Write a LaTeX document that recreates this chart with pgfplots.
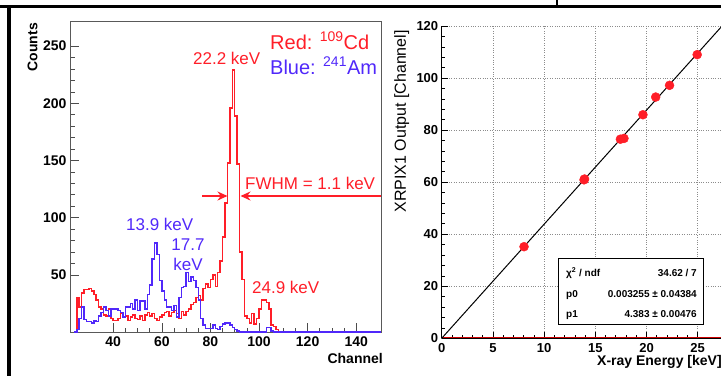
\documentclass[border=0pt]{standalone}
\usepackage{pgfplots}
\pgfplotsset{compat=1.18}
\usepackage{fontspec}
\setmainfont{Liberation Sans}
\usetikzlibrary{arrows.meta}
\definecolor{rootred}{RGB}{255,30,40}
\definecolor{rootblue}{RGB}{80,40,250}
\begin{document}
\begin{tikzpicture}[x=1pt,y=1pt]
\useasboundingbox (0,0) rectangle (721,376);
\clip (0,0) rectangle (721,376);
% ---------------- left panel: spectra ----------------
\begin{axis}[
  at={(70pt,44pt)}, anchor=south west, scale only axis,
  width=311pt, height=311pt,
  xmin=22.2, xmax=150.2, ymin=0, ymax=272,
  xtick={40,60,...,140}, ytick={50,100,...,250},
  minor x tick num=3, minor y tick num=4,
  tick align=inside, tick pos=left,
  major tick length=9pt, minor tick length=4.5pt,
  axis line style={draw=black!65, line width=0.6pt},
  every tick/.style={black!70, line width=0.6pt},
  tick label style={font=\fontsize{14}{16}\selectfont\bfseries},
  /pgf/number format/assume math mode=true,
  yticklabel style={inner sep=0pt, xshift=-3.3pt},
  xticklabel style={inner sep=0pt, yshift=-4.7pt},
  clip=false,
]
\addplot[const plot mark left, rootred, line width=1.5pt] coordinates {
(24,0)(25,30)(26,22)(27,34)(28,37)(29,37)(30,38)(31,36)(32,33)(33,28)(34,22)
(35,20)(36,15)(37,14)(38,20)(39,12)(40,10)(41,10)(42,12)(43,16)(44,13)
(45,14)(46,10)(47,13)(48,15)(49,12)(50,11)(51,14)(52,10)(53,15)(54,17)
(55,14)(56,16)(57,12)(58,10)(59,13)(60,15)(61,17)(62,18)(63,14)(64,17)
(65,19)(66,16)(67,12)(68,18)(69,15)(70,18)(71,20)(72,24)(73,26)(74,30)
(75,32)(76,28)(77,38)(78,42)(79,39)(80,46)(81,50)(82,40)(83,52)(84,62)
(85,83)(86,113)(87,148)(88,196)(89,229)(90,189)(91,147)(92,70)(93,46)(94,14)
(95,12)(96,8)(97,16)(98,7)(99,12)(100,20)(101,28)(102,28)(103,26)(104,20)
(105,6)(106,5)(107,2)(108,0)(150,0)};
\addplot[const plot mark left, rootblue, line width=1.5pt] coordinates {
(24,0)(25,2)(26,12)(27,22)(28,11)(29,9)(30,9)(31,8)(32,10)(33,9)(34,14)
(35,17)(36,22)(37,19)(38,14)(39,20)(40,20)(41,20)(42,19)(43,17)(44,13)
(45,22)(46,22)(47,25)(48,20)(49,28)(50,19)(51,27)(52,27)(53,20)(54,33)
(55,41)(56,64)(57,78)(58,68)(59,45)(60,36)(61,28)(62,22)(63,22)(64,19)
(65,23)(66,13)(67,30)(68,39)(69,40)(70,52)(71,44)(72,48)(73,45)(74,39)
(75,28)(76,12)(77,6)(78,3)(79,3)(80,3)(81,6)(82,3)(83,2)(84,5)
(85,7)(86,8)(87,8)(88,6)(89,4)(90,2)(91,1)(92,0)(103,4)(105,1)(106,0)(150,0)};
\end{axis}
% ---------------- right panel: calibration ----------------
\begin{axis}[
  at={(441.7pt,37.7pt)}, anchor=south west, scale only axis,
  width=307.2pt, height=312.3pt,
  xmin=0, xmax=30, ymin=0, ymax=120,
  xtick={0,5,...,25}, ytick={0,20,...,120},
  minor x tick num=4, minor y tick num=4,
  grid=major, major grid style={dotted, black!45, line width=0.6pt},
  axis x line*=bottom, axis y line*=left,
  axis line style={black, line width=1pt},
  every tick/.style={black, line width=0.6pt},
  tick align=inside, major tick length=6.7pt, minor tick length=3.5pt,
  tick label style={font=\fontsize{13}{15}\selectfont\bfseries},
  /pgf/number format/assume math mode=true,
  yticklabel style={inner sep=0pt, xshift=-3.3pt},
  xticklabel style={inner sep=0pt, yshift=-4.7pt},
]
\addplot[red!80!black, line width=0.5pt] coordinates {(0,0.3)(30,0.3)};
\addplot[black, line width=1pt] coordinates {(0,0.003255)(30,131.493)};
\addplot[only marks, mark=*, mark size=4.5pt, rootred, mark options={draw=rootred, fill=rootred}] coordinates {
(8.04,35.2)(13.95,61.2)(17.45,76.5)(17.8,76.8)(19.65,85.9)(20.9,92.7)(22.25,97.2)(24.95,109.0)(13.9,60.9)};
\end{axis}
% ---------------- frames ----------------
\fill[black] (0,367.5) rectangle (721,371);
\fill[black] (7,0) rectangle (11.3,371);
\fill[black] (555.5,370) rectangle (558,376);
% ---------------- left panel texts ----------------
\node[rotate=90, anchor=east, inner sep=0pt, font=\fontsize{14}{16}\selectfont\bfseries] at (32.5,353) {Counts};
\node[anchor=east, inner sep=0pt, font=\fontsize{14}{16}\selectfont\bfseries] at (383,18) {Channel};
\node[anchor=base west, inner sep=0pt, text=rootred, font=\fontsize{20}{22}\selectfont] at (270,326.7) {Red: \textsuperscript{109}Cd};
\node[anchor=base west, inner sep=0pt, text=rootblue, font=\fontsize{20}{22}\selectfont] at (270,302) {Blue: \textsuperscript{241}Am};
\node[anchor=base west, inner sep=0pt, text=rootred, font=\fontsize{17}{19}\selectfont] at (193,311.7) {22.2 keV};
\node[anchor=base west, inner sep=0pt, text=rootred, font=\fontsize{17}{19}\selectfont] at (245,186.7) {FWHM = 1.1 keV};
\node[anchor=base west, inner sep=0pt, text=rootblue, font=\fontsize{17}{19}\selectfont] at (126,146) {13.9 keV};
\node[anchor=base, inner sep=0pt, text=rootblue, font=\fontsize{17}{19}\selectfont] at (188,125.3) {17.7};
\node[anchor=base, inner sep=0pt, text=rootblue, font=\fontsize{17}{19}\selectfont] at (188,106) {keV};
\node[anchor=base west, inner sep=0pt, text=rootred, font=\fontsize{17}{19}\selectfont] at (252,82.7) {24.9 keV};
\draw[rootred, line width=2pt, -{Stealth[length=10pt,width=9pt]}] (202,180) -- (227.5,180);
\draw[rootred, line width=2pt, -{Stealth[length=10pt,width=9pt]}] (381,180) -- (240.5,180);
% ---------------- right panel texts ----------------
\node[rotate=90, anchor=east, inner sep=0pt, font=\fontsize{16}{18}\selectfont] at (401.7,346) {XRPIX1 Output [Channel]};
\node[anchor=west, inner sep=0pt, font=\fontsize{14}{16}\selectfont\bfseries] at (597,14.5) {X-ray Energy [keV]};
\draw[fill=white, line width=0.8pt] (558.3,117.7) rectangle (703.3,52);
\begin{scope}[font=\fontsize{10}{12}\selectfont\bfseries]
\node[anchor=base west, inner sep=0pt] at (566,99.5) {χ\textsuperscript{2} / ndf};
\node[anchor=base east, inner sep=0pt] at (697,99.5) {34.62 / 7};
\node[anchor=base west, inner sep=0pt] at (566,79) {p0};
\node[anchor=base east, inner sep=0pt] at (697,79) {0.003255 ± 0.04384};
\node[anchor=base west, inner sep=0pt] at (566,59) {p1};
\node[anchor=base east, inner sep=0pt] at (697,59) {4.383 ± 0.00476};
\end{scope}
\end{tikzpicture}
\end{document}
